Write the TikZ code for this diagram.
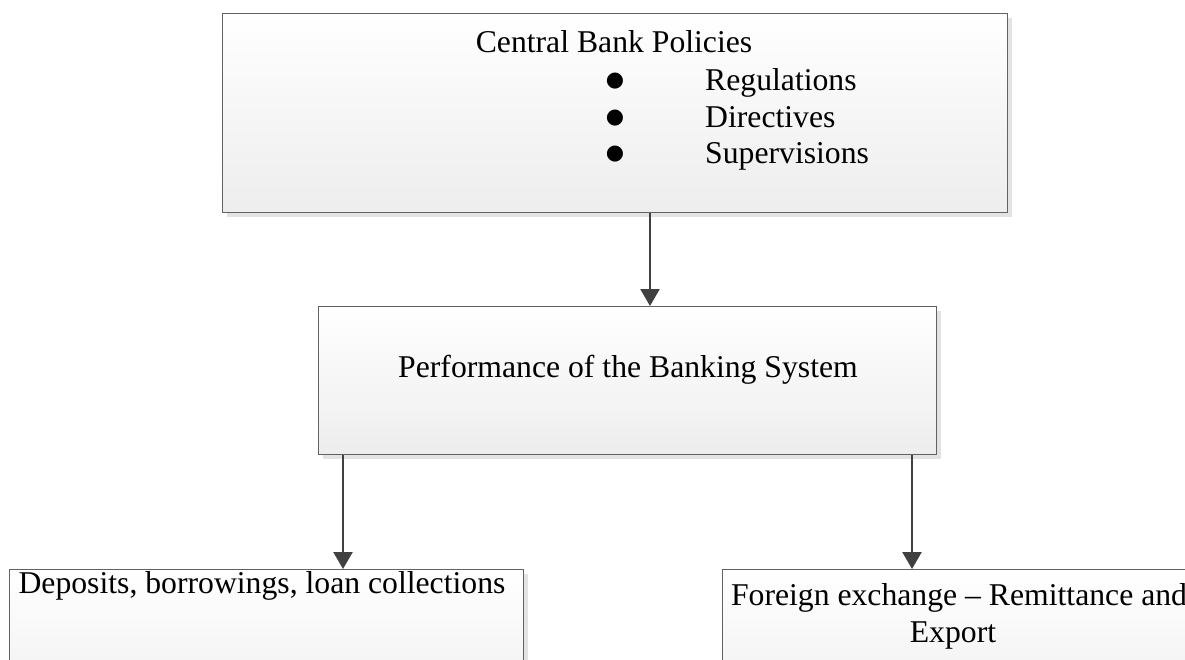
\documentclass[tikz,border=0pt]{standalone}
\usepackage{fontspec}
\setmainfont{Liberation Serif}
\newfontfamily\symfont{DejaVu Sans}
\usetikzlibrary{shadows,arrows.meta}
\definecolor{boxline}{HTML}{626262}
\definecolor{arrline}{HTML}{404040}
\begin{document}
\begin{tikzpicture}[x=1pt,y=-1pt,
  box/.style={draw=boxline, line width=1.3pt, rectangle, anchor=north west, inner sep=0pt,
    top color=white, bottom color=black!7,
    drop shadow={shadow xshift=4pt, shadow yshift=-4pt, fill=black!11, opacity=1}},
  txt/.style={inner sep=0pt, font=\fontsize{31.7}{34}\selectfont, anchor=base},
  bul/.style={inner sep=0pt, font=\symfont\fontsize{21}{21}\selectfont, anchor=base},
  arr/.style={draw=arrline, line width=2.4pt, -{Triangle[width=19pt,length=17pt]}}]
\useasboundingbox (0,0) rectangle (1185,659);
\clip (0,0) rectangle (1185,659);
\fill[white] (0,0) rectangle (1185,659);
% boxes
\node[box, minimum width=785pt, minimum height=199pt] (b1) at (222,13) {};
\node[box, minimum width=618pt, minimum height=148pt] (b2) at (318,306) {};
\node[box, minimum width=514pt, minimum height=160pt] (b3) at (9,569) {};
\node[box, minimum width=540pt, minimum height=160pt] (b4) at (722,569) {};
% texts
\node[txt] (t1) at (614,52) {Central Bank Policies};
\node[bul] (d1) at (615,86) {●};
\node[bul] (d2) at (615,123) {●};
\node[bul] (d3) at (615,159) {●};
\node[txt, anchor=base west] (i1) at (705,90) {Regulations};
\node[txt, anchor=base west] (i2) at (705,127) {Directives};
\node[txt, anchor=base west] (i3) at (705,163) {Supervisions};
\node[txt] (t2) at (628,377) {Performance of the Banking System};
\node[txt] (t3) at (262,593) {Deposits, borrowings, loan collections};
\node[txt] (t4a) at (959,605) {Foreign exchange -- Remittance and};
\node[txt] (t4b) at (953,642) {Export};
% connectors
\coordinate (c1) at (650,0);
\coordinate (c2) at (343,0);
\coordinate (c3) at (912,0);
\draw[arr] (b1.south -| c1) -- (b2.north -| c1);
\draw[arr] (b2.south -| c2) -- (b3.north -| c2);
\draw[arr] (b2.south -| c3) -- (b4.north -| c3);
\end{tikzpicture}
\end{document}
